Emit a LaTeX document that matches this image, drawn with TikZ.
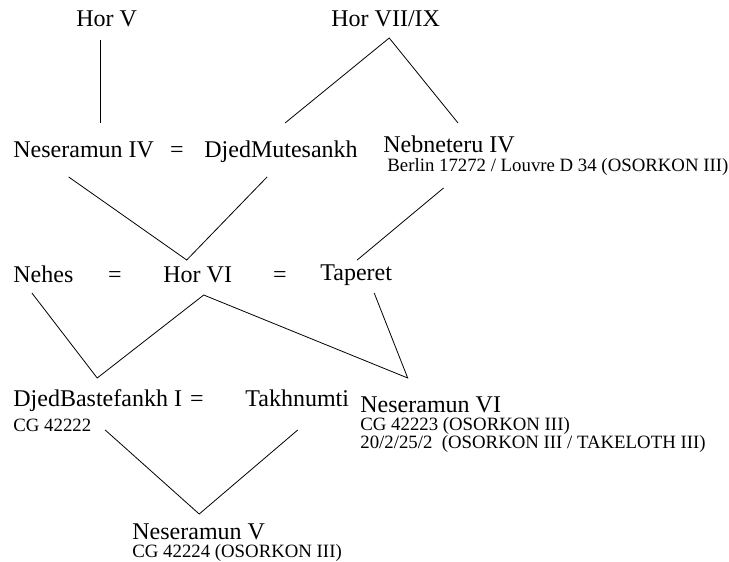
\documentclass[tikz,border=0pt]{standalone}
\usepackage{fontspec}
\setmainfont{Liberation Serif}
\begin{document}
\begin{tikzpicture}[x=1pt, y=-1pt, line width=0.8pt,
    person/.style={font=\fontsize{24}{26}\selectfont, inner sep=0pt, anchor=base west},
    note/.style={font=\fontsize{18.8}{20}\selectfont, inner sep=0pt, anchor=base west},
    eq/.style={font=\fontsize{24}{26}\selectfont, inner sep=0pt, anchor=base}]
      \useasboundingbox (0,0) rectangle (729,562);

      % first generation
      \node[person] (horV) at (76,27) {Hor V};
      \node[person] (horVII) at (331,27) {Hor VII/IX};

      % second generation
      \node[person] (nes4) at (13,157) {Neseramun IV};
      \node[eq] (eq1) at (177,157) {=};
      \node[person] (djm) at (204,157) {DjedMutesankh};
      \node[person] (neb4) at (383,152) {Nebneteru IV};
      \node[note] (neb4src) at (387,171) {Berlin 17272 / Louvre D 34 (OSORKON III)};

      % third generation
      \node[person] (nehes) at (13,282) {Nehes};
      \node[eq] (eq2) at (115,282) {=};
      \node[person] (hor6) at (163,282) {Hor VI};
      \node[eq] (eq3) at (280,282) {=};
      \node[person] (tap) at (320,280) {Taperet};

      % fourth generation
      \node[person] (djb) at (13,406) {DjedBastefankh I};
      \node[note] (djbsrc) at (13,431) {CG 42222};
      \node[eq] (eq4) at (197,406) {=};
      \node[person] (takh) at (245,406) {Takhnumti};
      \node[person] (nes6) at (360,412) {Neseramun VI};
      \node[note] (nes6src) at (360,430) {CG 42223 (OSORKON III)};
      \node[note] (nes6dat) at (360,448) {20/2/25/2\ \ (OSORKON III / TAKELOTH III)};

      % fifth generation
      \node[person] (nes5) at (132,539) {Neseramun V};
      \node[note] (nes5src) at (132,557) {CG 42224 (OSORKON III)};

      \draw[shorten <=13pt, shorten >=34pt] ([xshift=-6]horV.base) -- ([xshift=-6]horV.base |- nes4.base);
      \draw ([shift={(4,-34)}]djm.base) -- ([shift={(3.5,11)}]horVII.base) -- ([shift={(9,-29)}]neb4.base);
      \draw ([shift={(-15,20)}]nes4.base) -- ([shift={(-11,-22)}]hor6.base) -- ([shift={(-14,20)}]djm.base);
      \draw ([shift={(-5.5,36)}]neb4.base) -- ([shift={(1,-20)}]tap.base);
      \draw ([shift={(-11.5,11)}]nehes.base) -- ([shift={(-0.5,-28)}]djb.base) -- ([shift={(6,13)}]hor6.base)
        -- ([shift={(-23,-34)}]nes6.base) -- ([shift={(18,13)}]tap.base);
      \draw ([shift={(7.5,24)}]djb.base) -- ([shift={(0.5,-25)}]nes5.base) -- ([shift={(0.5,24)}]takh.base);
\end{tikzpicture}
\end{document}
